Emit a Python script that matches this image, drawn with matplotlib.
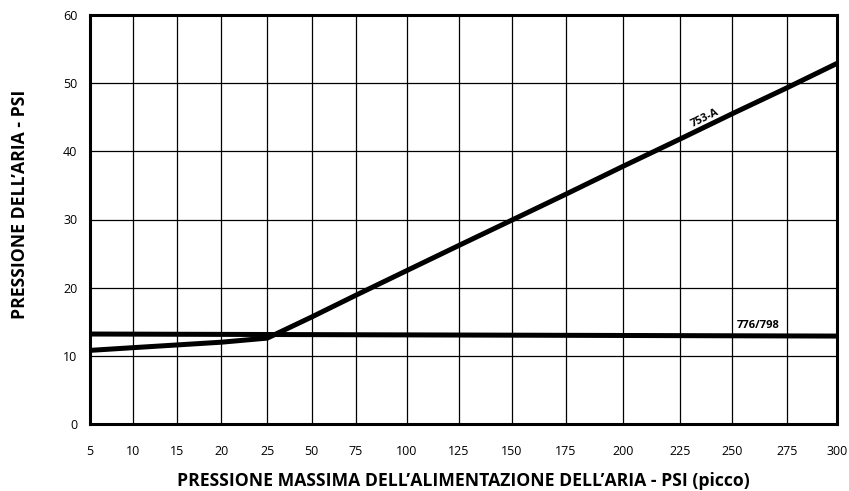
import numpy as np
import matplotlib
matplotlib.use("Agg")
import matplotlib.pyplot as plt

# ---- data ----
x_ticks = [5, 10, 15, 20, 25, 50, 75, 100, 125, 150, 175, 200, 225, 250, 275, 300]
y_ticks = [0, 10, 20, 30, 40, 50, 60]

x_753 = [5, 10, 15, 20, 25, 50, 75, 100, 125, 150, 175, 200, 225, 250, 275, 300]
y_753 = [10.8, 11.2, 11.6, 12.0, 12.6, 15.7, 18.9, 22.5, 26.2, 29.9, 33.7, 37.8, 41.8, 45.5, 49.3, 52.9]

x_776 = [5, 300]
y_776 = [13.2, 12.9]

label_753 = "753-A"
label_776 = "776/798"
xlabel = "PRESSIONE MASSIMA DELL\u2019ALIMENTAZIONE DELL\u2019ARIA - PSI (picco)"
ylabel = "PRESSIONE DELL\u2019ARIA - PSI"

# ---- layout: relative horizontal placement of the (non-uniform) x grid ----
grid_pos = np.array([90, 133.3, 177.3, 221.3, 267.3, 311.7, 356, 406.7, 459,
                     511.7, 565.7, 623, 680, 732, 786.7, 837], dtype=float)
grid_pos = (grid_pos - grid_pos[0]) / (grid_pos[-1] - grid_pos[0])
tick_arr = np.array(x_ticks, dtype=float)

def fwd(v):
    return np.interp(v, tick_arr, grid_pos)

def inv(p):
    return np.interp(p, grid_pos, tick_arr)

plt.rcParams['font.family'] = ['Open Sans', 'DejaVu Sans']

fig = plt.figure(figsize=(8.49, 4.91), dpi=100)
ax = fig.add_axes([90/849, 1 - 424/491, (837-90)/849, (424-15)/491])
ax.set_xscale('function', functions=(fwd, inv))
ax.set_xlim(5, 300)
ax.set_ylim(0, 60)

ax.set_xticks(x_ticks)
ax.set_xticklabels([str(v) for v in x_ticks])
ax.set_yticks(y_ticks)
ax.set_yticklabels([str(v) for v in y_ticks])
ax.tick_params(axis='both', length=0, labelsize=9, colors='black')
ax.tick_params(axis='x', pad=15)
ax.tick_params(axis='y', pad=9)

ax.grid(True, color='black', linewidth=0.9)
ax.set_axisbelow(True)
for s in ax.spines.values():
    s.set_linewidth(2.2)
    s.set_color('black')

ax.plot(x_776, y_776, color='black', linewidth=3.6, solid_capstyle='butt', zorder=3)
ax.plot(x_753, y_753, color='black', linewidth=3.6, solid_capstyle='butt',
        solid_joinstyle='miter', zorder=3)

ax.text(237, 44.9, label_753, fontsize=7.8, fontweight='bold', rotation=26,
        ha='center', va='center', color='black')
ax.text(262, 14.4, label_776, fontsize=8, fontweight='bold',
        ha='center', va='center', color='black')

fig.text(463/849, 1 - 481/491, xlabel, fontsize=12.7, fontweight='bold',
         ha='center', va='center')
fig.text(20/849, 1 - 204/491, ylabel, fontsize=12.7, fontweight='bold',
         rotation=90, ha='center', va='center')

fig.savefig("out.png", dpi=100, facecolor='white')
